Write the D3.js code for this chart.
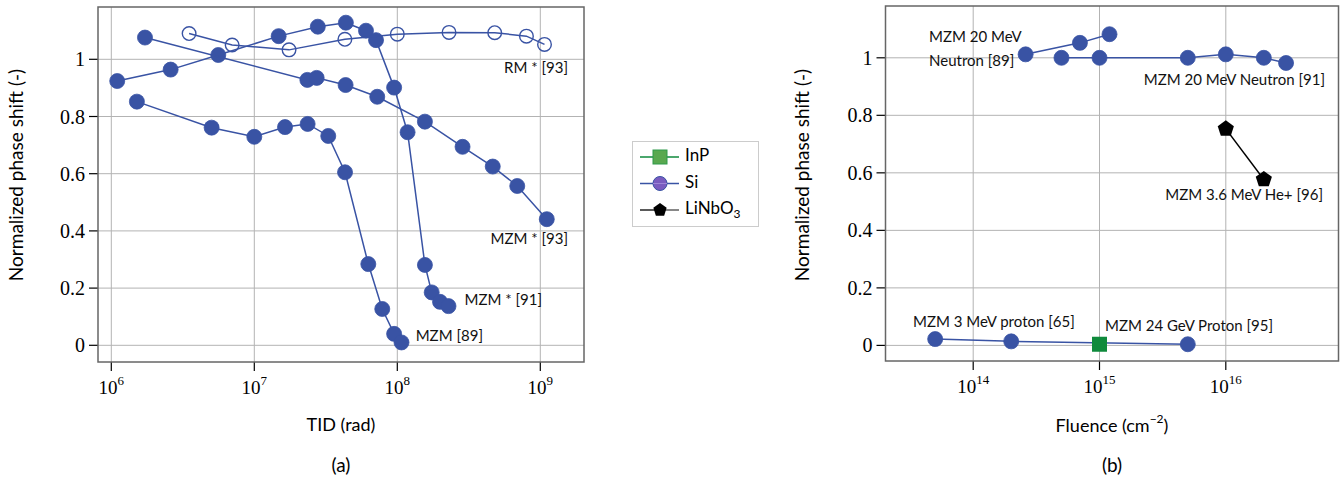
<!DOCTYPE html>
<html><head><meta charset="utf-8">
<script src="https://cdn.jsdelivr.net/npm/d3@7"></script>
<style>body{margin:0;background:#fff}</style>
</head><body>
<script>
// ---------- data ----------
// Panel (a): TID (rad) vs normalized phase shift
const rm93_x = [3.5e6, 7.0e6, 1.75e7, 4.3e7, 1.0e8, 2.3e8, 4.8e8, 8.0e8, 1.07e9];
const rm93_y = [1.090, 1.050, 1.033, 1.070, 1.088, 1.094, 1.093, 1.081, 1.052];
const mzm91_x = [1.1e6, 2.6e6, 5.6e6, 1.48e7, 2.78e7, 4.37e7, 6.04e7, 7.1e7, 9.5e7, 1.18e8, 1.56e8, 1.74e8, 1.99e8, 2.28e8];
const mzm91_y = [0.924, 0.964, 1.015, 1.081, 1.114, 1.128, 1.100, 1.067, 0.901, 0.745, 0.281, 0.185, 0.152, 0.137];
const mzm93_x = [1.72e6, 2.35e7, 2.73e7, 4.35e7, 7.24e7, 1.56e8, 2.86e8, 4.65e8, 6.9e8, 1.11e9];
const mzm93_y = [1.076, 0.928, 0.935, 0.910, 0.869, 0.782, 0.694, 0.625, 0.557, 0.441];
const mzm89_x = [1.51e6, 5.03e6, 1.0e7, 1.64e7, 2.36e7, 3.29e7, 4.31e7, 6.27e7, 7.85e7, 9.5e7, 1.07e8];
const mzm89_y = [0.852, 0.761, 0.729, 0.763, 0.774, 0.732, 0.605, 0.284, 0.127, 0.040, 0.010];
const labelsA = ["RM * [93]", "MZM * [93]", "MZM * [91]", "MZM [89]"];

// Panel (b): Fluence (cm^-2) vs normalized phase shift
const n89_x = [2.6e14, 7.0e14, 1.2e15];
const n89_y = [1.012, 1.052, 1.082];
const n91_x = [5.0e14, 1.0e15, 5.0e15, 1.0e16, 2.0e16, 3.0e16];
const n91_y = [1.000, 1.000, 1.000, 1.012, 1.000, 0.982];
const p65_x = [5.0e13, 2.0e14, 5.0e15];
const p65_y = [0.022, 0.014, 0.004];
const inp95_x = [1.0e15];
const inp95_y = [0.004];
const he96_x = [1.0e16, 2.0e16];
const he96_y = [0.753, 0.577];
const labelsB = ["MZM 20 MeV", "Neutron [89]", "MZM 20 MeV Neutron [91]", "MZM 3.6 MeV He+ [96]", "MZM 3 MeV proton [65]", "MZM 24 GeV Proton [95]"];

const yTicks = [0, 0.2, 0.4, 0.6, 0.8, 1];
const xTicksA = [1e6, 1e7, 1e8, 1e9];
const xTicksB = [1e14, 1e15, 1e16];
const legendNames = ["InP", "Si", "LiNbO"];

// ---------- drawing ----------
const BLUE = "#3953a4", GREEN = "#0f8a3c", GRID = "#b3b3b3", FRAME = "#666";
const svg = d3.select("body").append("svg").attr("width", 1344).attr("height", 487)
  .style("font-family", "Lato, 'Open Sans', sans-serif");

function panel(opt) {
  const g = svg.append("g");
  const x = d3.scaleLog().domain(opt.xdom).range(opt.xrange);
  const y = d3.scaleLinear().domain([0, 1]).range(opt.yrange);
  const L = opt.frame[0], T = opt.frame[1], R = opt.frame[2], B = opt.frame[3];
  g.selectAll(".gx").data(opt.xticks).join("line")
    .attr("x1", d => x(d)).attr("x2", d => x(d)).attr("y1", T).attr("y2", B)
    .attr("stroke", GRID).attr("stroke-width", 1);
  g.selectAll(".gy").data(yTicks).join("line")
    .attr("x1", L).attr("x2", R).attr("y1", d => y(d)).attr("y2", d => y(d))
    .attr("stroke", GRID).attr("stroke-width", 1);
  g.selectAll(".tx").data(opt.xticks).join("line")
    .attr("x1", d => x(d)).attr("x2", d => x(d)).attr("y1", B).attr("y2", B + 9)
    .attr("stroke", "#000").attr("stroke-width", 1.2);
  g.selectAll(".ty").data(yTicks).join("line")
    .attr("x1", L - 9).attr("x2", L).attr("y1", d => y(d)).attr("y2", d => y(d))
    .attr("stroke", "#000").attr("stroke-width", 1.2);
  const xl = g.selectAll(".xl").data(opt.xticks).join("text")
    .attr("x", d => x(d)).attr("y", B + 32).attr("text-anchor", "middle")
    .style("font-family", "'Liberation Serif', serif").style("font-size", "19px");
  xl.append("tspan").text("10");
  xl.append("tspan").attr("dy", -9).style("font-size", "13px").text(d => Math.round(Math.log10(d)));
  g.selectAll(".yl").data(yTicks).join("text")
    .attr("x", L - 13).attr("y", d => y(d) + 7).attr("text-anchor", "end")
    .style("font-family", "'Liberation Serif', serif").style("font-size", "20px")
    .text(d => d === 0 ? "0" : d === 1 ? "1" : d3.format(".1f")(d));
  g.append("rect").attr("x", L).attr("y", T).attr("width", R - L).attr("height", B - T)
    .attr("fill", "none").attr("stroke", FRAME).attr("stroke-width", 1.5);
  g.append("text").attr("transform", `translate(${opt.ylabX},175) rotate(-90)`)
    .attr("text-anchor", "middle").attr("dominant-baseline", "middle")
    .style("font-size", "19px").text("Normalized phase shift (-)");
  return {g, x, y};
}

function series(p, xs, ys, opts) {
  const pts = xs.map((v, i) => [p.x(v), p.y(ys[i])]);
  p.g.append("path").attr("d", d3.line()(pts)).attr("fill", "none")
    .attr("stroke", opts.line || BLUE).attr("stroke-width", 1.5);
  if (opts.shape === "circle") {
    p.g.selectAll(null).data(pts).join("circle")
      .attr("cx", d => d[0]).attr("cy", d => d[1]).attr("r", opts.open ? 6.8 : 7.5)
      .attr("fill", opts.open ? "none" : BLUE).attr("stroke", BLUE).attr("stroke-width", opts.open ? 1.4 : 0.8);
  } else if (opts.shape === "square") {
    p.g.selectAll(null).data(pts).join("rect")
      .attr("x", d => d[0] - 7.5).attr("y", d => d[1] - 7.5).attr("width", 15).attr("height", 15)
      .attr("fill", GREEN);
  } else if (opts.shape === "pentagon") {
    const pent = d3.range(5).map(k => { const a = -Math.PI / 2 + k * 2 * Math.PI / 5; return [8.5 * Math.cos(a), 8.5 * Math.sin(a)]; });
    p.g.selectAll(null).data(pts).join("path")
      .attr("d", d => "M" + pent.map(q => [d[0] + q[0], d[1] + q[1]].join(",")).join("L") + "Z")
      .attr("fill", "#000");
  }
}

function label(p, txt, x, y, anchor) {
  p.g.append("text").attr("x", x).attr("y", y).attr("text-anchor", anchor || "start")
    .attr("dominant-baseline", "middle").style("font-size", "15px").attr("fill", "#111").text(txt);
}

// Panel (a)
const A = panel({xdom: [1e6, 1e9], xrange: [111.3, 540.3], yrange: [345.3, 59.3],
  frame: [98, 7, 584, 362], xticks: xTicksA, ylabX: 18});
series(A, mzm91_x, mzm91_y, {shape: "circle"});
series(A, mzm93_x, mzm93_y, {shape: "circle"});
series(A, mzm89_x, mzm89_y, {shape: "circle"});
series(A, rm93_x, rm93_y, {shape: "circle", open: true});
label(A, labelsA[0], 568, 69, "end");
label(A, labelsA[1], 568, 240, "end");
label(A, labelsA[2], 542, 301, "end");
label(A, labelsA[3], 483, 337, "end");
svg.append("text").attr("x", 341).attr("y", 426).attr("text-anchor", "middle").attr("dominant-baseline", "middle")
  .style("font-size", "18px").text("TID (rad)");
svg.append("text").attr("x", 341).attr("y", 467).attr("text-anchor", "middle").attr("dominant-baseline", "middle")
  .style("font-size", "19px").text("(a)");

// Panel (b)
const Bp = panel({xdom: [1e14, 1e16], xrange: [973.2, 1225.8], yrange: [345.4, 57.8],
  frame: [885.5, 6, 1338.5, 361], xticks: xTicksB, ylabX: 804});
series(Bp, n89_x, n89_y, {shape: "circle"});
series(Bp, n91_x, n91_y, {shape: "circle"});
series(Bp, p65_x, p65_y, {shape: "circle"});
series(Bp, inp95_x, inp95_y, {shape: "square", line: GREEN});
series(Bp, he96_x, he96_y, {shape: "pentagon", line: "#000"});
label(Bp, labelsB[0], 929, 38);
label(Bp, labelsB[1], 929, 62);
label(Bp, labelsB[2], 1325, 81, "end");
label(Bp, labelsB[3], 1323, 196, "end");
label(Bp, labelsB[4], 913, 323);
label(Bp, labelsB[5], 1105, 327);
const fl = svg.append("text").attr("x", 1112).attr("y", 427).attr("text-anchor", "middle").attr("dominant-baseline", "middle")
  .style("font-size", "18px");
fl.append("tspan").text("Fluence (cm");
fl.append("tspan").attr("dy", -7).style("font-size", "12px").text("−2");
fl.append("tspan").attr("dy", 7).text(")");
svg.append("text").attr("x", 1112).attr("y", 467).attr("text-anchor", "middle").attr("dominant-baseline", "middle")
  .style("font-size", "19px").text("(b)");

// Legend
const lg = svg.append("g");
lg.append("rect").attr("x", 632.5).attr("y", 141.5).attr("width", 126).attr("height", 85)
  .attr("fill", "#fff").attr("stroke", "#ccc").attr("stroke-width", 1);
const rows = [157, 183.5, 210];
lg.append("line").attr("x1", 640).attr("x2", 679).attr("y1", rows[0]).attr("y2", rows[0]).attr("stroke", GREEN).attr("stroke-width", 1.3);
lg.append("rect").attr("x", 653).attr("y", rows[0] - 7).attr("width", 14).attr("height", 14).attr("fill", "#59a84f").attr("stroke", "#2f9a4a").attr("stroke-width", 1);
lg.append("line").attr("x1", 640).attr("x2", 679).attr("y1", rows[1]).attr("y2", rows[1]).attr("stroke", BLUE).attr("stroke-width", 1.3);
lg.append("circle").attr("cx", 660).attr("cy", rows[1]).attr("r", 7).attr("fill", "#7a5cbf").attr("stroke", BLUE).attr("stroke-width", 1);
lg.append("line").attr("x1", 653).attr("x2", 667).attr("y1", rows[1]).attr("y2", rows[1]).attr("stroke", "#9d86d6").attr("stroke-width", 1);
lg.append("line").attr("x1", 640).attr("x2", 660).attr("y1", rows[2]).attr("y2", rows[2]).attr("stroke", "#000").attr("stroke-width", 1.3);
lg.append("line").attr("x1", 660).attr("x2", 679).attr("y1", rows[2]).attr("y2", rows[2]).attr("stroke", "#888").attr("stroke-width", 2);
const pentL = d3.range(5).map(k => { const a = -Math.PI / 2 + k * 2 * Math.PI / 5; return [660 + 7 * Math.cos(a), rows[2] + 7 * Math.sin(a)]; });
lg.append("path").attr("d", "M" + pentL.join("L") + "Z").attr("fill", "#000");
legendNames.forEach((n, i) => {
  const t = lg.append("text").attr("x", 685).attr("y", rows[i]).attr("dominant-baseline", "middle").style("font-size", "17px").text(n);
  if (i === 2) t.append("tspan").attr("dy", 5).style("font-size", "12px").text("3");
});
</script>
</body></html>
